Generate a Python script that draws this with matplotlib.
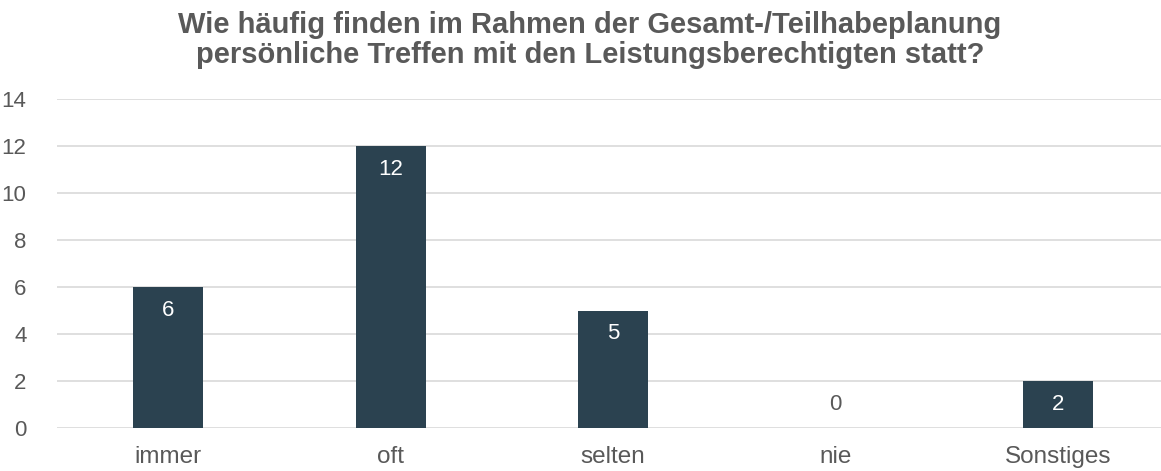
import matplotlib
matplotlib.use("Agg")
import matplotlib.pyplot as plt

categories = ["immer", "oft", "selten", "nie", "Sonstiges"]
values = [6, 12, 5, 0, 2]
yticks = [0, 2, 4, 6, 8, 10, 12, 14]
title_lines = ["Wie häufig finden im Rahmen der Gesamt-/Teilhabeplanung",
               "persönliche Treffen mit den Leistungsberechtigten statt?"]

plt.rcParams['font.family'] = ['Liberation Sans', 'DejaVu Sans']
W, H = 1161, 471
fig = plt.figure(figsize=(W/100, H/100), dpi=100)
left, right, top, bottom = 57, 1169, 99, 428
ax = fig.add_axes([left/W, 1-bottom/H, (right-left)/W, (bottom-top)/H])

bar_color = "#2B4250"
text_gray = "#595959"
x = list(range(len(categories)))
ax.bar(x, values, width=0.315, color=bar_color, zorder=3)
ax.set_xlim(-0.5, len(categories)-0.5)
ax.set_ylim(0, 14)
ax.set_yticks(yticks)
ax.set_xticks(x)
ax.set_xticklabels(categories)
ax.tick_params(axis='both', length=0, colors=text_gray)
ax.tick_params(axis='x', pad=13, labelsize=17.5)
ax.tick_params(axis='y', pad=22, labelsize=16)
ax.grid(axis='y', color="#D9D9D9", linewidth=1.2, zorder=0)
for s in ax.spines.values():
    s.set_visible(False)

for xi, v in zip(x, values):
    if v > 0:
        ax.annotate(str(v), (xi, v), xytext=(0, -23), textcoords='offset pixels',
                    ha='center', va='center', color='white', fontsize=16, zorder=4)
    else:
        ax.annotate(str(v), (xi, v), xytext=(0, 23), textcoords='offset pixels',
                    ha='center', va='center', color=text_gray, fontsize=16, zorder=4)

for i, line in enumerate(title_lines):
    fig.text(590/W, 1 - (33 + 30*i)/H, line, ha='center', va='baseline',
             fontsize=21, fontweight='bold', color=text_gray)

fig.savefig("out.png", dpi=100)
